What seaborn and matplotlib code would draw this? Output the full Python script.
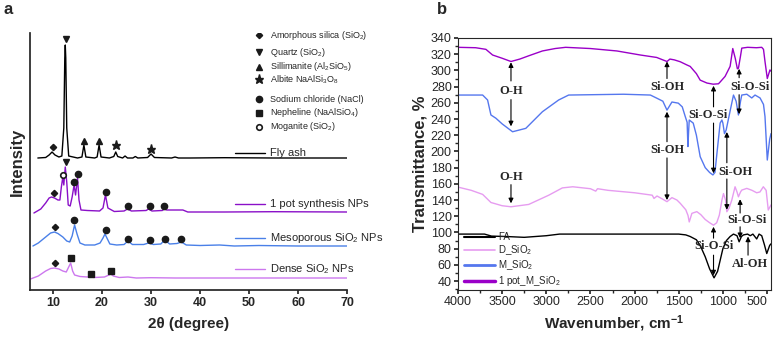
import numpy as np
import matplotlib
matplotlib.use("Agg")
import matplotlib.pyplot as plt
import seaborn as sns

# ---------------- (a) XRD patterns, intensity relative to each baseline ----------------
fa_x = [6.9, 8.5, 9.2, 9.8, 10.4, 11.2, 11.8, 12.2, 12.4, 12.5, 12.6, 12.8, 13.2, 15.0, 15.9, 16.3, 16.7,
        18.5, 19.0, 19.4, 19.8, 21.5, 22.4, 22.8, 23.2, 24.2, 24.7, 25.2, 26.3, 26.8, 27.3, 29.3, 30.0,
        30.7, 34.2, 34.9, 35.6, 38, 45, 55, 70]
fa_y = [0, 0.5, 3, 6, 3, 1, 2, 30, 100, 113, 100, 30, 2, 0, 1, 13, 1,
        0, 1, 13, 1, 0, 1.5, 6, 1.5, 0, 2, 0, 0, 1.5, 0, 0.5, 4,
        0.5, 0, 1, 0, 0, 0.3, 0, 0]

pot_x = [6.1, 7.5, 8.5, 9.2, 9.7, 10.3, 11.0, 11.4, 11.7, 12.0, 12.2, 12.5, 12.8, 13.1, 13.5, 13.9, 14.3,
         14.6, 15.0, 15.3, 15.7, 17, 19.5, 20.2, 20.7, 21.2, 22.5, 24.5, 25.2, 26, 29, 29.5, 30.2, 32.3,
         32.7, 33.2, 35, 36.5, 37.5, 45, 55, 70]
pot_y = [-1, 3, 9, 14, 15, 14, 12, 12, 25, 35, 27, 45, 30, 7, 6, 15, 27,
         17, 34, 12, 2, 1.5, 1, 4, 17, 4, 0.5, 1, 3, 1, 1.5, 3, 1, 1.5,
         3, 2, 2, 2, 0, 0, 0.3, 0]

meso_x = [5.9, 7, 8.5, 9.5, 10.3, 11.0, 12.0, 12.8, 13.4, 13.9, 14.4, 14.9, 15.5, 16.5, 18.5, 19.6, 20.2,
          20.6, 21.0, 21.6, 23, 24.5, 25.3, 26.2, 28.5, 29.5, 30.5, 32, 32.8, 33.8, 35.3, 36.2, 37.2,
          40, 44, 47, 52, 60, 70]
meso_y = [0, 3, 9, 13, 14, 12.5, 9, 5, 4, 10, 21, 12, 3, 1, 1, 3, 8,
          12, 8, 2, 1, 1.5, 5, 1.5, 1.5, 3, 1.5, 2, 6, 2, 2.5, 4, 1,
          0.5, 1, 0, 0.5, 0, 0]

dense_x = [5.4, 7, 8.5, 9.5, 10.3, 11.2, 12.0, 12.7, 13.2, 13.6, 14.0, 14.4, 15.5, 17, 17.7, 18.4,
           20.5, 21.4, 21.8, 22.3, 23.5, 25.3, 27, 30, 35, 45, 55, 70]
dense_y = [-1, 2, 7, 9.5, 10, 9, 7, 6, 11, 15, 7, 3, 1.5, 1, 1.5, 0.5,
           1, 3, 4, 2, 0.5, 1, 0, 0.3, 0, 0, 0, 0]

xrd_names = ["Fly ash", "1 pot synthesis NPs", "Mesoporous SiO$_2$ NPs", "Dense SiO$_2$ NPs"]
xrd_offsets = [132, 78, 44, 12]
xrd_colors = ["black", "#8a10c8", "#4a80e8", "#cc77ee"]

# phase markers: (sample index, phase, 2theta, height above baseline)
phase_marks = [
    (0, "amorph", 9.9, 11), (0, "quartz", 12.6, 119), (0, "sill", 16.4, 17), (0, "sill", 19.4, 17),
    (0, "albite", 22.9, 13), (0, "albite", 30.0, 9),
    (1, "amorph", 10.1, 19), (1, "mogan", 12.0, 37), (1, "quartz", 12.6, 50), (1, "nacl", 14.3, 30),
    (1, "nacl", 15.0, 38), (1, "nacl", 20.8, 20), (1, "nacl", 25.4, 6), (1, "nacl", 29.7, 6),
    (1, "nacl", 32.7, 6),
    (2, "amorph", 10.4, 19), (2, "nacl", 14.3, 26), (2, "nacl", 20.8, 16), (2, "nacl", 25.4, 7),
    (2, "nacl", 29.7, 6), (2, "nacl", 32.9, 7), (2, "nacl", 36.1, 7),
    (3, "amorph", 10.4, 15), (3, "neph", 13.7, 20), (3, "neph", 17.8, 4), (3, "neph", 21.8, 7),
]
phase_keys = ["amorph", "quartz", "sill", "albite", "nacl", "neph", "mogan"]
phase_labels = ["Amorphous silica (SiO$_2$)", "Quartz (SiO$_2$)", "Sillimanite (Al$_2$SiO$_5$)",
                "Albite NaAlSi$_3$O$_8$", "Sodium chloride (NaCl)", "Nepheline (NaAlSiO$_4$)",
                "Moganite (SiO$_2$)"]

# ---------------- (b) FTIR spectra ----------------
fa_wn = [4000, 3700, 3620, 3450, 3250, 3000, 2850, 2500, 2000, 1500, 1420, 1370, 1300, 1257, 1200, 1150,
         1100, 1060, 1000, 960, 918, 880, 840, 816, 790, 767, 720, 690, 660, 617, 590, 560, 530, 503, 470, 455]
fa_t = [98, 98, 95.5, 95, 94, 96, 98, 98, 98, 98, 97, 95, 91, 84, 70, 55,
        44, 52, 80, 90, 95, 98, 96, 88.5, 95, 97, 98, 96, 98, 92, 98, 96, 85, 74, 84, 86]

d_wn = [4000, 3850, 3721, 3627, 3500, 3400, 3199, 2972, 2818, 2700, 2500, 2440, 2420, 2300, 2000, 1800,
        1780, 1746, 1680, 1633, 1577, 1520, 1483, 1420, 1395, 1381, 1351, 1295, 1250, 1200, 1150, 1106,
        1070, 1040, 1011, 993, 970, 955, 930, 899, 862, 840, 824, 800, 786, 729, 670, 617, 580, 542, 510,
        486, 455]
d_t = [156, 152, 147, 137, 133, 131.7, 134.6, 146, 155, 156.4, 154, 151, 154, 152, 149, 146,
       142, 145, 141, 138, 143, 140, 136, 128, 121, 113, 123.6, 125.7, 122, 116, 112, 109,
       112, 121.5, 140, 148, 140, 125.6, 130, 140, 156.4, 150, 144, 150, 152.3, 154.4, 152, 149, 150, 156.4, 152,
       127.7, 134]

m_wn = [4000, 3721, 3665, 3627, 3571, 3500, 3382, 3232, 3044, 2860, 2747, 2500, 2126, 1821, 1746, 1680,
        1633, 1577, 1505, 1460, 1426, 1405, 1396, 1388, 1381, 1336, 1300, 1257, 1200, 1150, 1113, 1090,
        1065, 1031, 1011, 1000, 982, 963, 918, 880, 850, 824, 800, 786, 729, 673, 636, 579, 540, 523, 497,
        470, 455]
m_t = [269.6, 269.6, 263.5, 245, 241, 234, 224.3, 228.5, 249, 263.5, 269.6, 270, 270.6, 269.6, 265.6, 262,
       251, 261, 259.6, 255, 243, 236, 206, 225, 238.8, 235, 220, 193.5, 180, 174, 171, 174,
       200, 235, 238.8, 235, 222, 226.4, 250, 269.6, 262, 245, 262, 269.6, 270.6, 266, 269.6, 266, 258, 243, 189.4,
       215, 222]

p_wn = [4000, 3800, 3684, 3608, 3500, 3400, 3300, 3200, 3044, 2900, 2781, 2500, 2200, 1934, 1750, 1680,
        1633, 1600, 1550, 1483, 1407, 1370, 1300, 1257, 1180, 1110, 1050, 1031, 975, 918, 888, 860, 836,
        824, 800, 786, 720, 620, 560, 540, 523, 497, 467, 455]
p_t = [328.5, 328, 326, 319, 315, 311, 314, 318, 324, 327, 328.5, 327, 324, 319, 316, 313,
       311, 314, 313, 310.7, 306.7, 304.9, 296, 288, 284.4, 283, 283.5, 285.7, 292.6, 305, 327, 315, 302,
       302.6, 318, 327.5, 328.5, 328, 328.5, 326, 311, 290, 300.6, 299]

ftir_names = ["FA", "D_SiO$_2$", "M_SiO$_2$", "1 pot_M_SiO$_2$"]
ftir_colors = ["black", "#e69cf0", "#5577ee", "#9a00c8"]

# ---------------- style ----------------
sns.set_theme(style="ticks")
plt.rcParams["font.family"] = ["Liberation Sans", "DejaVu Sans"]
plt.rcParams["mathtext.fontset"] = "custom"
plt.rcParams["mathtext.rm"] = "Liberation Sans"
plt.rcParams["mathtext.it"] = "Liberation Sans:italic"
plt.rcParams["mathtext.bf"] = "Liberation Sans:bold"

W, H = 774, 337
fig = plt.figure(figsize=(W / 100, H / 100), dpi=100)
axa = fig.add_axes([30 / W, 1 - 290 / H, 317 / W, 257 / H])
axb = fig.add_axes([458 / W, 1 - 290 / H, 313 / W, 252 / H])

# ---------------- panel a ----------------
curves = [(fa_x, fa_y), (pot_x, pot_y), (meso_x, meso_y), (dense_x, dense_y)]
label_y = [137, 86, 52, 21]
for i, (xs, ys) in enumerate(curves):
    yy = np.array(ys) + xrd_offsets[i]
    sns.lineplot(x=xs, y=yy, ax=axa, color=xrd_colors[i], lw=1.0, estimator=None)
    axa.plot([47.2, 53.2], [label_y[i], label_y[i]], color=xrd_colors[i], lw=1.0)
    axa.text(54.3, label_y[i], xrd_names[i], fontsize=8, va="center", ha="left")

mstyle = {
    "amorph": dict(marker="D", ms=3.2, mfc="k", mec="k"),
    "quartz": dict(marker="v", ms=5, mfc="k", mec="k"),
    "sill": dict(marker="^", ms=5, mfc="k", mec="k"),
    "albite": dict(marker="*", ms=6.5, mfc="k", mec="k"),
    "nacl": dict(marker="o", ms=4.5, mfc="k", mec="k"),
    "neph": dict(marker="s", ms=3.8, mfc="k", mec="k"),
    "mogan": dict(marker="o", ms=4, mfc="white", mec="k", mew=1.2),
}
for si, key, tx, h in phase_marks:
    axa.plot([tx], [h + xrd_offsets[si]], ls="none", **mstyle[key])

leg_rows = [255, 237.7, 223.3, 210.7, 190.7, 177.3, 163.3]
for key, lab, ry in zip(phase_keys, phase_labels, leg_rows):
    axa.plot([52.0], [ry], ls="none", **mstyle[key])
    axa.text(54.3, ry, lab, fontsize=6.5, va="center", ha="left")

axa.set_xlim(5.3, 70)
axa.set_ylim(0, 257)
axa.set_yticks([])
axa.set_xticks(range(10, 71, 10))
axa.tick_params(axis="x", labelsize=9, length=3, pad=2)
for t in axa.get_xticklabels():
    t.set_fontweight("bold")
axa.set_xlabel("2θ (degree)", fontsize=11, fontweight="bold", labelpad=6)
axa.set_ylabel("Intensity", fontsize=12, fontweight="bold", labelpad=4)
sns.despine(ax=axa)
fig.text(3 / W, 1 - 10 / H, "a", fontsize=12, fontweight="bold", va="center")

# ---------------- panel b ----------------
spectra = [(fa_wn, fa_t), (d_wn, d_t), (m_wn, m_t), (p_wn, p_t)]
for i, (xs, ys) in enumerate(spectra):
    sns.lineplot(x=xs, y=ys, ax=axb, color=ftir_colors[i], lw=1.0, estimator=None,
                 label=ftir_names[i])

axb.set_xlim(4000, 455)
axb.set_ylim(29, 340)
axb.set_xticks(range(4000, 499, -500))
axb.set_xticks(range(3750, 499, -500), minor=True)
axb.set_yticks(range(40, 341, 20))
axb.set_yticks(range(30, 341, 20), minor=True)
axb.tick_params(axis="both", which="major", labelsize=9, length=3, pad=1.5)
axb.tick_params(axis="both", which="minor", length=2)
axb.get_xticklabels()[-1].set_horizontalalignment("right")
for s in axb.spines.values():
    s.set_linewidth(0.8)
axb.set_xlabel("Wavenumber, cm$^{\\mathbf{-1}}$", fontsize=11, fontweight="bold", labelpad=4)
axb.set_ylabel("Transmittance, %", fontsize=12, fontweight="bold", labelpad=2)

leg = axb.legend(loc="lower left", bbox_to_anchor=(0.0, -0.015), frameon=False, fontsize=7,
                 handlelength=3.2, labelspacing=0.15, handletextpad=0.3, borderaxespad=0.2)
for ln, lw in zip(leg.get_lines(), [1.5, 1.2, 2.0, 2.5]):
    ln.set_linewidth(lw)

afont = dict(fontsize=9, fontweight="bold", family="Liberation Serif", ha="center", va="center")
labels_b = [("O-H", 3400, 275), ("Si-OH", 1633, 280), ("Si-O-Si", 690, 280), ("Si-O-Si", 1164, 245),
            ("Si-OH", 1633, 202), ("Si-OH", 862, 175), ("O-H", 3400, 168), ("Si-O-Si", 729, 115),
            ("Si-O-Si", 1106, 83), ("Al-OH", 692, 61)]
for txt, wx, ty in labels_b:
    axb.text(wx, ty, txt, clip_on=False, **afont)

arrows_b = [(3400, 287, 310), (3400, 264, 231), (1633, 290, 311), (816, 291, 302), (816, 270, 246),
            (1106, 255, 281), (1106, 235, 173), (1633, 212, 249), (1633, 192, 140), (955, 186, 224),
            (955, 166, 128), (3400, 159, 136), (805, 124, 141), (805, 107, 93), (1106, 93, 107),
            (1106, 72, 47), (715, 72, 95)]
for wx, t0, t1 in arrows_b:
    axb.annotate("", xy=(wx, t1), xytext=(wx, t0),
                 arrowprops=dict(arrowstyle="-|>", color="black", lw=0.8, mutation_scale=7,
                                 shrinkA=0, shrinkB=0))
fig.text(437 / W, 1 - 9 / H, "b", fontsize=12, fontweight="bold", va="center")

fig.savefig("out.png", dpi=100)
